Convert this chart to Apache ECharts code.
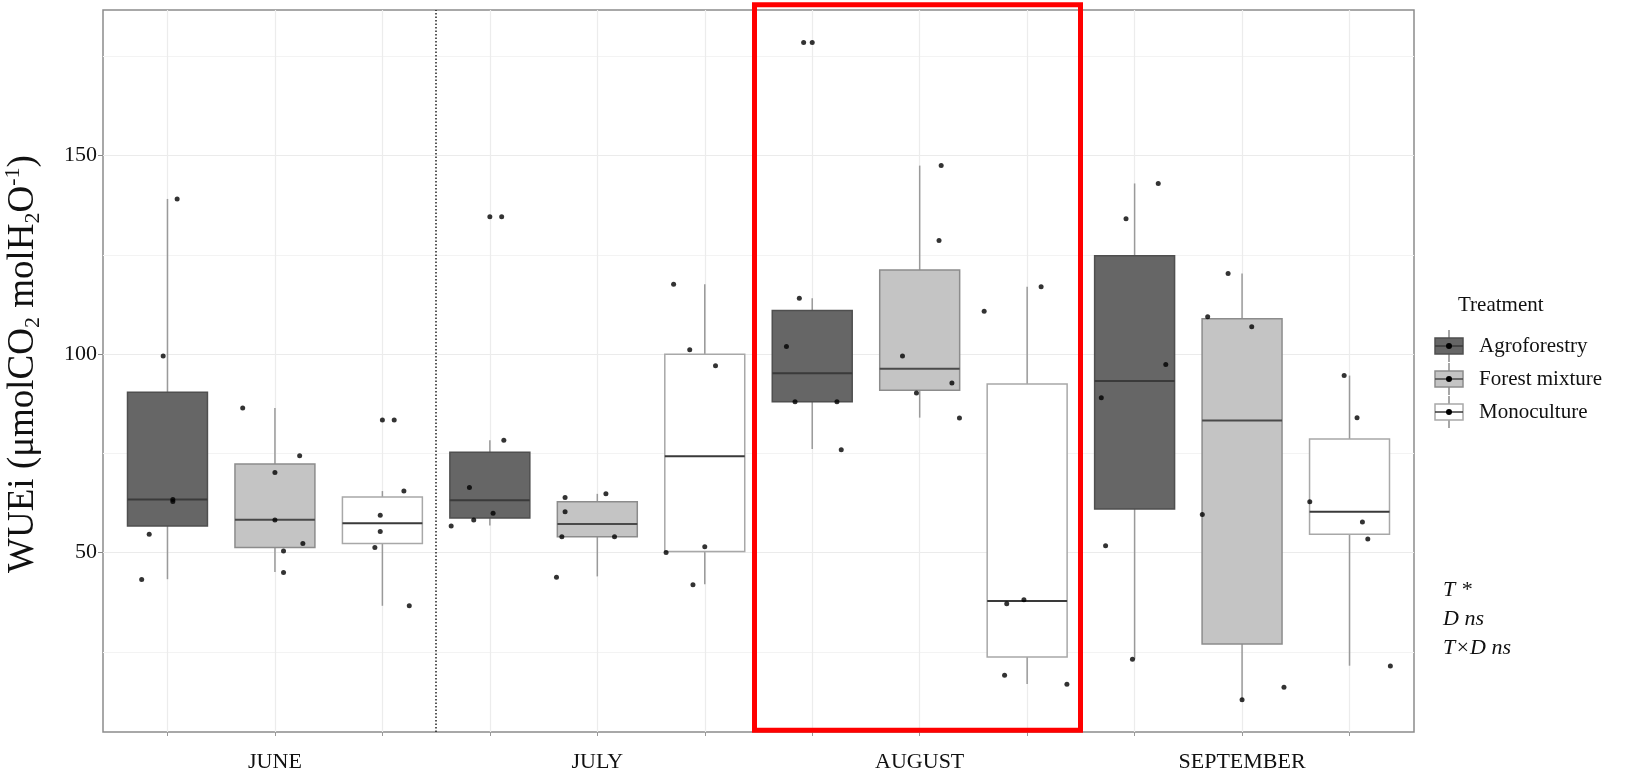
<!DOCTYPE html>
<html>
<head>
<meta charset="utf-8">
<script src="https://cdn.jsdelivr.net/npm/echarts@6/dist/echarts.min.js"></script>
<style>
  html, body { margin: 0; padding: 0; background: #fff; }
  #chart { width: 1625px; height: 775px; }
</style>
</head>
<body>
<div id="chart"></div>
<script>
const months = ['JUNE', 'JULY', 'AUGUST', 'SEPTEMBER']
const treatments = ['Agroforestry', 'Forest mixture', 'Monoculture']
const yTicks = [50, 100, 150]
const yMinorTicks = [25, 75, 125, 175]

// [lower whisker, Q1, median, Q3, upper whisker] for each month
const agroBox = [[43.3, 56.7, 63.4, 90.4, 139.1], [56.8, 58.7, 63.2, 75.3, 78.3], [76.1, 88.0, 95.2, 111.0, 114.1], [23.1, 61.0, 93.2, 124.8, 143.0]]
const mixBox = [[45.1, 51.3, 58.3, 72.3, 86.4], [44.0, 54.0, 57.2, 62.8, 64.8], [84.0, 90.9, 96.3, 121.2, 147.5], [12.9, 27.0, 83.3, 108.9, 120.3]]
const monoBox = [[36.6, 52.3, 57.4, 64.0, 65.5], [42.0, 50.3, 74.3, 100.0, 117.6], [16.9, 23.7, 37.8, 92.5, 117.0], [21.5, 54.6, 60.3, 78.6, 94.6]]

// observations per month: [horizontal jitter, WUEi]
const agroPts = [
  [[0.09, 139.1], [-0.04, 99.5], [-0.17, 54.6], [-0.24, 43.2], [0.05, 63.4], [0.05, 62.9]],
  [[0, 134.6], [0.11, 134.6], [0.13, 78.3], [-0.19, 66.4], [0.03, 59.9], [-0.15, 58.2], [-0.36, 56.7]],
  [[-0.08, 178.5], [0, 178.5], [-0.12, 114.1], [-0.24, 101.9], [-0.16, 88.0], [0.23, 88.0], [0.27, 75.9]],
  [[0.22, 143.0], [-0.08, 134.1], [0.29, 97.4], [-0.31, 89.0], [-0.27, 51.7], [-0.02, 23.1]]
]
const mixPts = [
  [[-0.3, 86.4], [0.23, 74.4], [0, 70.2], [0, 58.2], [0.26, 52.3], [0.08, 50.4], [0.08, 45.0]],
  [[-0.3, 63.9], [0.08, 64.8], [-0.3, 60.3], [-0.33, 54.0], [0.16, 54.0], [-0.38, 43.8]],
  [[0.2, 147.5], [0.18, 128.6], [-0.16, 99.5], [0.3, 92.7], [-0.03, 90.2], [0.37, 83.9]],
  [[-0.13, 120.3], [-0.32, 109.4], [0.09, 106.9], [-0.37, 59.6], [0, 12.9], [0.39, 16.1]]
]
const monoPts = [
  [[0, 83.4], [0.11, 83.4], [0.2, 65.5], [-0.02, 59.4], [-0.02, 55.3], [-0.07, 51.3], [0.25, 36.6]],
  [[-0.29, 117.6], [-0.14, 101.1], [0.1, 97.1], [-0.36, 50.0], [0, 51.5], [-0.11, 41.9]],
  [[0.13, 117.0], [-0.4, 110.8], [-0.19, 37.1], [-0.03, 38.1], [-0.21, 19.1], [0.37, 16.8]],
  [[-0.05, 94.6], [0.07, 84.0], [-0.37, 62.8], [0.12, 57.7], [0.17, 53.4], [0.38, 21.4]]
]

const boxes = [agroBox, mixBox, monoBox]
const points = [agroPts, mixPts, monoPts]
const fills = ['#666666', '#c4c4c4', '#ffffff']
const borders = ['#4f4f4f', '#8c8c8c', '#a8a8a8']
const medians = ['#3a3a3a', '#4a4a4a', '#3a3a3a']
const serif = 'Liberation Serif'

const pos = (m, t) => m * 3 + t + 1

function renderBox(params, api) {
  const t = params.seriesIndex
  const x = api.value(0)
  const half = 0.372
  const lo = api.coord([x, api.value(1)])
  const q1 = api.coord([x, api.value(2)])
  const med = api.coord([x, api.value(3)])
  const q3 = api.coord([x, api.value(4)])
  const hi = api.coord([x, api.value(5)])
  const l = api.coord([x - half, api.value(3)])[0]
  const r = api.coord([x + half, api.value(3)])[0]
  const whisker = { stroke: '#9a9a9a', lineWidth: 1.5 }
  return {
    type: 'group',
    children: [
      { type: 'line', shape: { x1: lo[0], y1: lo[1], x2: q1[0], y2: q1[1] }, style: whisker },
      { type: 'line', shape: { x1: q3[0], y1: q3[1], x2: hi[0], y2: hi[1] }, style: whisker },
      { type: 'rect', shape: { x: l, y: q3[1], width: r - l, height: q1[1] - q3[1] },
        style: { fill: fills[t], stroke: borders[t], lineWidth: 1.5 } },
      { type: 'line', shape: { x1: l, y1: med[1], x2: r, y2: med[1] },
        style: { stroke: medians[t], lineWidth: 2 } }
    ]
  }
}

const series = []
treatments.forEach((name, t) => {
  const s = {
    name: name,
    type: 'custom',
    renderItem: renderBox,
    encode: { x: 0, y: [1, 2, 3, 4, 5] },
    data: boxes[t].map((b, m) => [pos(m, t)].concat(b)),
    z: 2
  }
  if (t === 0) {
    s.markLine = {
      silent: true,
      symbol: ['none', 'none'],
      label: { show: false },
      lineStyle: { type: [1.5, 2], color: '#222', width: 1.5 },
      data: [{ xAxis: 3.5 }]
    }
  }
  series.push(s)
})
treatments.forEach((name, t) => {
  const data = []
  points[t].forEach((list, m) => {
    list.forEach(p => data.push([pos(m, t) + p[0], p[1]]))
  })
  series.push({
    name: name + ' points',
    type: 'scatter',
    symbolSize: 5,
    itemStyle: { color: '#000' },
    data: data,
    z: 3
  })
})

// legend keys drawn as small boxplots
const legendItems = []
treatments.forEach((name, t) => {
  const cy = 346 + t * 33
  legendItems.push(
    { type: 'line', shape: { x1: 1449, y1: cy - 16, x2: 1449, y2: cy + 16 }, style: { stroke: '#8a8a8a', lineWidth: 1.5 } },
    { type: 'rect', shape: { x: 1435, y: cy - 8, width: 28, height: 16 }, style: { fill: fills[t], stroke: borders[t], lineWidth: 1.5 } },
    { type: 'line', shape: { x1: 1435, y1: cy, x2: 1463, y2: cy }, style: { stroke: medians[t], lineWidth: 1.5 } },
    { type: 'circle', shape: { cx: 1449, cy: cy, r: 3 }, style: { fill: '#000' } },
    { type: 'text', x: 1479, y: cy, style: { text: name, font: '21px "' + serif + '"', fill: '#111', verticalAlign: 'middle' } }
  )
})

const myEcharts = echarts.init(document.getElementById('chart'))
myEcharts.setOption({
  animation: false,
  backgroundColor: '#fff',
  grid: {
    left: 103, right: 211, top: 10, bottom: 43,
    outerBoundsMode: 'none',
    containLabel: false,
    show: true, borderColor: '#8c8c8c', borderWidth: 1.5
  },
  xAxis: {
    type: 'value',
    min: 0.4,
    max: 12.6,
    axisLine: { show: false },
    axisTick: { show: true, length: 4, lineStyle: { color: '#999' }, customValues: [1, 2, 3, 4, 5, 6, 7, 8, 9, 10, 11, 12] },
    axisLabel: {
      customValues: [2, 5, 8, 11],
      formatter: v => months[Math.round((v - 2) / 3)],
      fontFamily: serif, fontSize: 22, color: '#111', margin: 19
    },
    splitLine: { show: true, lineStyle: { color: '#ececec', width: 1.2 } }
  },
  yAxis: [{
    type: 'value',
    min: 4.8,
    max: 186.7,
    axisLine: { show: false },
    axisTick: { show: true, length: 5, lineStyle: { color: '#888' }, customValues: yTicks },
    axisLabel: { customValues: yTicks, fontFamily: serif, fontSize: 22, color: '#111', margin: 6 },
    splitLine: { show: true, lineStyle: { color: '#ebebeb', width: 1.2 } },
    name: '{a|WUEi (μmolCO}{s|2}{a| molH}{s|2}{a|O}{p|-1}{a|)}',
    nameLocation: 'middle',
    nameGap: 59,
    nameTextStyle: {
      padding: [0, 0, 0, 14],
      rich: {
        a: { fontFamily: serif, fontSize: 37, color: '#111', lineHeight: 42 },
        s: { fontFamily: serif, fontSize: 22, color: '#111', lineHeight: 22, verticalAlign: 'bottom' },
        p: { fontFamily: serif, fontSize: 22, color: '#111', lineHeight: 22, verticalAlign: 'top' }
      }
    }
  }, {
    type: 'value',
    min: 4.8,
    max: 186.7,
    axisLine: { show: false },
    axisTick: { show: false, customValues: yMinorTicks },
    axisLabel: { show: false, customValues: yMinorTicks },
    splitLine: { show: true, lineStyle: { color: '#f3f3f3', width: 1.2 } }
  }],
  graphic: [
    { type: 'rect', z: 100, shape: { x: 754.5, y: 4.8, width: 326, height: 725.5 },
      style: { fill: 'none', stroke: '#ff0000', lineWidth: 5 } },
    { type: 'text', x: 1458, y: 305, style: { text: 'Treatment', font: '21px "' + serif + '"', fill: '#111', verticalAlign: 'middle' } },
    { type: 'group', children: legendItems },
    { type: 'text', x: 1443, y: 590, style: { text: 'T *', font: 'italic 22px "' + serif + '"', fill: '#111', verticalAlign: 'middle' } },
    { type: 'text', x: 1443, y: 619, style: { text: 'D ns', font: 'italic 22px "' + serif + '"', fill: '#111', verticalAlign: 'middle' } },
    { type: 'text', x: 1443, y: 648, style: { text: 'T×D ns', font: 'italic 22px "' + serif + '"', fill: '#111', verticalAlign: 'middle' } }
  ],
  series: series
})
</script>
</body>
</html>
